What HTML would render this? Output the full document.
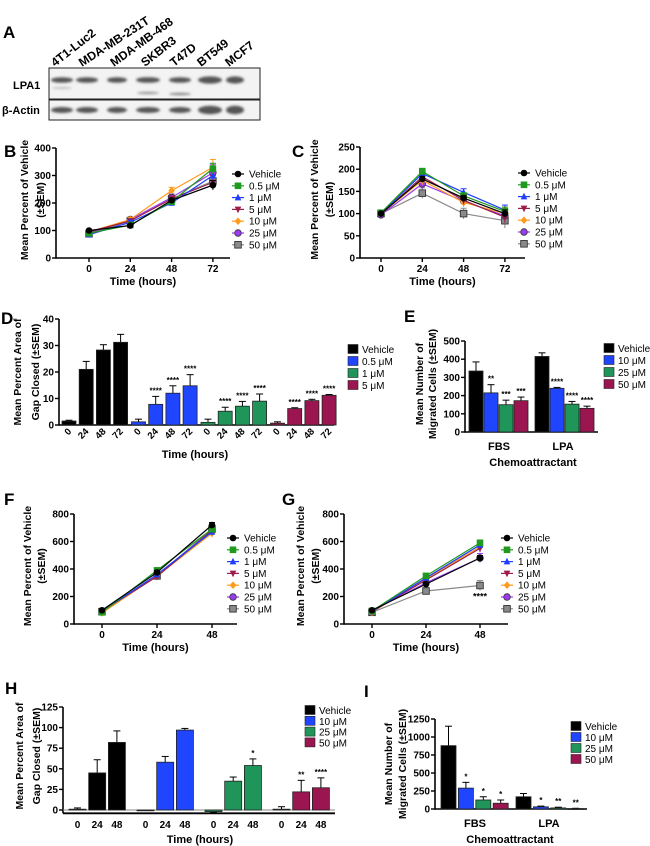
<!DOCTYPE html>
<html><head><meta charset="utf-8"><style>
html,body{margin:0;padding:0;background:#fff;}
svg{display:block;font-family:"Liberation Sans",Arial,sans-serif;}
</style></head><body>
<svg id="fig" width="650" height="846" viewBox="0 0 650 846" xmlns="http://www.w3.org/2000/svg">
<defs><filter id="blur" x="-20%" y="-50%" width="140%" height="200%"><feGaussianBlur stdDeviation="1.2"/></filter></defs>
<g>
<text x="3" y="38" font-size="17" font-weight="bold">A</text>
<g font-size="12" font-weight="bold">
<text transform="translate(55,67) rotate(-38)">4T1-Luc2</text>
<text transform="translate(82,67) rotate(-33)">MDA-MB-231T</text>
<text transform="translate(114,67) rotate(-36)">MDA-MB-468</text>
<text transform="translate(145,67) rotate(-38)">SKBR3</text>
<text transform="translate(174,67) rotate(-38)">T47D</text>
<text transform="translate(201,67) rotate(-38)">BT549</text>
<text transform="translate(229,67) rotate(-38)">MCF7</text>
</g>
<text x="13" y="89" font-size="11" font-weight="bold">LPA1</text>
<text x="2" y="114" font-size="11" font-weight="bold">β-Actin</text>
<rect x="49" y="68" width="211" height="31" fill="#f3f3f3" stroke="#222" stroke-width="1"/>
<rect x="49" y="100" width="211" height="20" fill="#f3f3f3" stroke="#222" stroke-width="1"/>
<g id="bands" filter="url(#blur)"></g>
</g>
<g id="charts"></g>
</svg>
<script>
// ---------- Panel B data ----------
const timesB = ["0","24","48","72"];
const seriesNames = ["Vehicle","0.5 μM","1 μM","5 μM","10 μM","25 μM","50 μM"];
const bVehicle = [100,118,210,265];
const b05 = [90,120,205,325];
const b1 = [85,130,200,300];
const b5 = [95,135,215,275];
const b10 = [95,140,245,330];
const b25 = [90,140,220,310];
const b50 = [88,135,215,280];
const bErr = [6,8,12,28];
const ticksB = [0,100,200,300,400];
// ---------- Panel C data ----------
const cVehicle = [100,178,135,100];
const c05 = [102,195,140,105];
const c1 = [100,190,148,108];
const c5 = [98,183,130,92];
const c10 = [100,175,125,100];
const c25 = [97,167,128,95];
const c50 = [100,146,100,84];
const cErr = [4,10,10,14];
const ticksC = [0,50,100,150,200,250];
// ---------- Panel F data ----------
const timesF = ["0","24","48"];
const fVehicle = [100,375,720];
const f05 = [85,390,690];
const f1 = [90,360,670];
const f5 = [95,345,680];
const f10 = [80,350,660];
const f25 = [95,355,680];
const f50 = [90,350,690];
const fErr = [10,25,30];
const ticksF = [0,200,400,600,800];
// ---------- Panel G data ----------
const gVehicle = [100,290,480];
const g05 = [95,350,590];
const g1 = [90,335,575];
const g5 = [90,320,550];
const g10 = [85,330,560];
const g25 = [95,300,480];
const g50 = [85,240,280];
const gErr = [10,20,30];
const ticksG = [0,200,400,600,800];
// ---------- Panel D data ----------
const timesD = ["0","24","48","72"];
const dLegend = ["Vehicle","0.5 μM","1 μM","5 μM"];
const dVehicle = [1.5,21,28.3,31.2];
const d05 = [1.2,7.8,12,14.8];
const d1 = [1,5.2,7.1,9];
const d5 = [0.7,6.2,9.2,11.2];
const dErrVehicle = [0.3,3,2,3];
const dErr05 = [1,3,2.8,4.2];
const dErr1 = [1.2,1.5,1.8,2.7];
const dErr5 = [0.5,0.3,0.5,0.3];
const dStars = ["","****","****","****"];
const ticksD = [0,10,20,30,40];
// ---------- Panel E data ----------
const catsE = ["FBS","LPA"];
const eLegend = ["Vehicle","10 μM","25 μM","50 μM"];
const eFBS = [335,215,150,172];
const eLPA = [415,240,153,130];
const eErrFBS = [50,45,25,20];
const eErrLPA = [20,5,15,12];
const eStarsFBS = ["","**","***","***"];
const eStarsLPA = ["","****","****","****"];
const ticksE = [0,100,200,300,400,500];
// ---------- Panel H data ----------
const timesH = ["0","24","48"];
const hLegend = ["Vehicle","10 μM","25 μM","50 μM"];
const hVehicle = [1,45,82];
const h10 = [0,58,97];
const h25 = [-2,35,54];
const h50 = [1,22,27];
const hErrVehicle = [1.5,16,14];
const hErr10 = [0,7,2];
const hErr25 = [1,5,8];
const hErr50 = [3,14,12];
const hStars25 = ["","","*"];
const hStars50 = ["","**","****"];
const ticksH = [0,25,50,75,100,125];
// ---------- Panel I data ----------
const catsI = ["FBS","LPA"];
const iFBS = [880,290,125,80];
const iLPA = [170,30,15,5];
const iErrFBS = [270,80,45,45];
const iErrLPA = [45,10,10,5];
const iStarsFBS = ["","*","*","*"];
const iStarsLPA = ["","*","**","**"];
const ticksI = [0,250,500,750,1000,1250];

const NS="http://www.w3.org/2000/svg";
const root=document.getElementById('charts');
const lineColors=["#000","#1f9a1f","#1f3dff","#9b1b4b","#ff9a1a","#9b3cf0","#8a8a8a"];
const markerShapes=["circle","square","tri","tridown","diamond","circleo","squareo"];
const barColors=["#000","#1f45ff","#1f955a","#9b1650"];
function el(tag,attrs,parent){const e=document.createElementNS(NS,tag);for(const k in attrs)e.setAttribute(k,attrs[k]);(parent||root).appendChild(e);return e;}
function txt(x,y,s,size,opts,parent){const t=el('text',Object.assign({x:x,y:y,'font-size':size},opts||{}),parent);t.textContent=s;return t;}

function yAxis(g,ax,y0,yTop,vmax,ticks,vmin){
  vmin=vmin||0;
  const sy=v=>y0-(v-vmin)/(vmax-vmin)*(y0-yTop);
  const a=el('line',{x1:ax,y1:sy(vmin)+0.7,x2:ax,y2:sy(vmax),stroke:'#000','stroke-width':1.6},g);
  
  
  ticks.forEach(t=>{
    el('line',{x1:ax-4,y1:sy(t),x2:ax,y2:sy(t),stroke:'#000','stroke-width':1.4},g);
    const l=txt(ax-5,sy(t)+3.5,String(t),10,{'text-anchor':'end','font-weight':'bold'},g);
    
    
  });
  return sy;
}
function yTitle(g,x1,x2,cy,l1,l2,size){
  const a=txt(0,0,l1,size||10.5,{'text-anchor':'middle','font-weight':'bold',transform:`translate(${x1},${cy}) rotate(-90)`},g);
  
  
  const b=txt(0,0,l2,size||10.5,{'text-anchor':'middle','font-weight':'bold',transform:`translate(${x2},${cy}) rotate(-90)`},g);
  
  
}
function marker(g,shape,x,y,c){
  const r=3.3;let m;
  if(shape==='circle') m=el('circle',{cx:x,cy:y,r:r,fill:c},g);
  else if(shape==='circleo') m=el('circle',{cx:x,cy:y,r:r,fill:c,stroke:'#333','stroke-width':0.8},g);
  else if(shape==='square') m=el('rect',{x:x-r,y:y-r,width:2*r,height:2*r,fill:c},g);
  else if(shape==='squareo') m=el('rect',{x:x-r,y:y-r,width:2*r,height:2*r,fill:c,stroke:'#333','stroke-width':0.9},g);
  else if(shape==='tri') m=el('polygon',{points:`${x},${y-r-0.5} ${x-r},${y+r-0.5} ${x+r},${y+r-0.5}`,fill:c},g);
  else if(shape==='tridown') m=el('polygon',{points:`${x},${y+r+0.5} ${x-r},${y-r+0.5} ${x+r},${y-r+0.5}`,fill:c},g);
  else m=el('polygon',{points:`${x},${y-r-0.5} ${x+r},${y} ${x},${y+r+0.5} ${x-r},${y}`,fill:c},g);
  return m;
}
function legendLines(g,mx,ty,step){
  seriesNames.forEach((n,i)=>{
    const y=ty+i*step;
    el('line',{x1:mx-6,y1:y,x2:mx+6,y2:y,stroke:lineColors[i],'stroke-width':1.2},g);
    const m=marker(g,markerShapes[i],mx,y,lineColors[i]);
    
    
    const t=txt(mx+11,y+3.5,n,10,{},g);
    
    
  });
}
function lineChart(name,letter,lx,ly,ax,xEnd,y0,yTop,vmax,ticks,times,xFirst,xStep,series,err,legX,legY,titleX1,titleX2,xTitleY,starsLast){
  const g=el('g',{});
  
  
  const L=txt(lx,ly,letter,17,{'font-weight':'bold'},g);
  
  
  const sy=yAxis(g,ax,y0,yTop,vmax,ticks);
  const sx=i=>xFirst+i*xStep;
  const xa=el('line',{x1:ax,y1:y0,x2:xEnd,y2:y0,stroke:'#000','stroke-width':1.6},g);
  
  
  times.forEach((t,i)=>{
    el('line',{x1:sx(i),y1:y0,x2:sx(i),y2:y0+4,stroke:'#000','stroke-width':1.4},g);
    const l=txt(sx(i),y0+14,t,10,{'text-anchor':'middle','font-weight':'bold'},g);
    
    
  });
  const xt=txt((ax+xEnd)/2,xTitleY,'Time (hours)',11,{'text-anchor':'middle','font-weight':'bold'},g);
  
  
  yTitle(g,titleX1,titleX2,(y0+yTop)/2-3,'Mean Percent of Vehicle','(±SEM)',10.5);
  for(let s=series.length-1;s>=0;s--){
    const vals=series[s];
    const pts=vals.map((v,i)=>sx(i)+','+sy(v)).join(' ');
    const pl=el('polyline',{points:pts,fill:'none',stroke:lineColors[s],'stroke-width':1.2},g);
    
    
    vals.forEach((v,i)=>{
      const e=err[i]*(0.6+0.1*s);
      el('line',{x1:sx(i),y1:sy(v-e),x2:sx(i),y2:sy(v+e),stroke:lineColors[s],'stroke-width':1},g);
      el('line',{x1:sx(i)-3,y1:sy(v+e),x2:sx(i)+3,y2:sy(v+e),stroke:lineColors[s],'stroke-width':1},g);
      const m=marker(g,markerShapes[s],sx(i),sy(v),lineColors[s]);
      
      
    });
  }
  if(starsLast){const i=series[6].length-1;const st=txt(sx(i),sy(series[6][i])+14,starsLast,9,{'text-anchor':'middle','font-weight':'bold'},g);
    
    }
  legendLines(g,legX,legY,11.8);
}
lineChart('panel-b-chart','B',4,157,56,230,258,148,400,ticksB,timesB,89,41.3,[bVehicle,b05,b1,b5,b10,b25,b50],bErr,238,174,28,44,285);
lineChart('panel-c-chart','C',292,157,360,525,258,147,250,ticksC,timesB,381,41.3,[cVehicle,c05,c1,c5,c10,c25,c50],cErr,524,173,318,333,285);
lineChart('panel-f-chart','F',4,505,74,237,624,514,800,ticksF,timesF,102,55,[fVehicle,f05,f1,f5,f10,f25,f50],fErr,233,538,31,45,651);
lineChart('panel-g-chart','G',282,505,344,508,624,514,800,ticksG,timesF,372,54,[gVehicle,g05,g1,g5,g10,g25,g50],gErr,507,538,304,319,651,'****');

function barLegend(g,bx,ty,step,names){
  names.forEach((n,i)=>{
    const r=el('rect',{x:bx,y:ty+i*step-4.5,width:10,height:9,fill:barColors[i],stroke:'#222','stroke-width':0.6},g);
    
    
    const t=txt(bx+14,ty+i*step+4,n,10,{},g);
    
    
  });
}
function bar(g,x,w,sy,v,e,color,star){
  const y=Math.min(sy(v),sy(0)),h=Math.abs(sy(0)-sy(v));
  if(e>0){
    const top=sy(v+(v>=0?e:-e));
    el('line',{x1:x+w/2,y1:sy(v),x2:x+w/2,y2:top,stroke:'#000','stroke-width':1},g);
    el('line',{x1:x+w/2-3.5,y1:top,x2:x+w/2+3.5,y2:top,stroke:'#000','stroke-width':1},g);
  }
  const r=el('rect',{x:x,y:y,width:w,height:Math.max(h,0.8),fill:color,stroke:'#222','stroke-width':0.8},g);
  
  
  if(star){const st=txt(x+w/2,sy(v+e)-3,star,8,{'text-anchor':'middle','font-weight':'bold'},g);
    
    }
}
// Panel D
(function(){
  const g=el('g',{});
  
  
  const L=txt(1,324,'D',17,{'font-weight':'bold'},g);
  
  
  const sy=yAxis(g,59,425,319,40,ticksD);
  const xa=el('line',{x1:59,y1:425,x2:334,y2:425,stroke:'#000','stroke-width':1.6},g);
  
  
  const groups=[dVehicle,d05,d1,d5],errs=[dErrVehicle,dErr05,dErr1,dErr5];
  groups.forEach((vals,gi)=>{
    vals.forEach((v,bi)=>{
      const x=62+gi*69.5+bi*17.2;
      bar(g,x,14,sy,v,errs[gi][bi],barColors[gi],gi>0?dStars[bi]:'');
      const l=txt(0,0,timesD[bi],9.5,{'text-anchor':'end','font-weight':'bold',transform:`translate(${x+10},${432}) rotate(-45)`},g);
      
      
    });
  });
  const xt=txt(195,458,'Time (hours)',11,{'text-anchor':'middle','font-weight':'bold'},g);
  
  
  yTitle(g,21,39,372,'Mean Percent Area of','Gap Closed (±SEM)',10.5);
  barLegend(g,348,349,12,dLegend);
})();
// Panel E
(function(){
  const g=el('g',{});
  
  
  const L=txt(404,322,'E',17,{'font-weight':'bold'},g);
  
  
  const sy=yAxis(g,465,432,341,500,ticksE);
  const xa=el('line',{x1:465,y1:432,x2:598,y2:432,stroke:'#000','stroke-width':1.6},g);
  
  
  const groups=[eFBS,eLPA],errs=[eErrFBS,eErrLPA],stars=[eStarsFBS,eStarsLPA];
  groups.forEach((vals,gi)=>{
    vals.forEach((v,bi)=>{bar(g,469+gi*66+bi*15,14,sy,v,errs[gi][bi],barColors[bi],stars[gi][bi]);});
    const l=txt(499+gi*64,450,catsE[gi],11,{'text-anchor':'middle','font-weight':'bold'},g);
    
    
  });
  const xt=txt(533,466,'Chemoattractant',11,{'text-anchor':'middle','font-weight':'bold'},g);
  
  
  yTitle(g,423,436,384,'Mean Number of','Migrated Cells (±SEM)',10.5);
  barLegend(g,604,348,12,eLegend);
})();
// Panel H
(function(){
  const g=el('g',{});
  
  
  const L=txt(5,694,'H',17,{'font-weight':'bold'},g);
  
  
  const sy=yAxis(g,63,810,707,125,ticksH,0);
  el('line',{x1:63,y1:sy(-4),x2:63,y2:sy(0),stroke:'#000','stroke-width':1.6},g);
  el('line',{x1:63,y1:sy(0),x2:335,y2:sy(0),stroke:'#888','stroke-width':1},g);
  const xa=el('line',{x1:63,y1:sy(-4),x2:335,y2:sy(-4),stroke:'#000','stroke-width':1.8},g);
  
  
  const groups=[hVehicle,h10,h25,h50],errs=[hErrVehicle,hErr10,hErr25,hErr50],stars=[["","",""],["","",""],hStars25,hStars50];
  groups.forEach((vals,gi)=>{
    vals.forEach((v,bi)=>{
      const x=69+gi*68+bi*19.7;
      bar(g,x,17,sy,v,errs[gi][bi],barColors[gi],stars[gi][bi]);
      const l=txt(x+8.5,828,timesH[bi],10,{'text-anchor':'middle','font-weight':'bold'},g);
      
      
    });
  });
  const xt=txt(200,843,'Time (hours)',11,{'text-anchor':'middle','font-weight':'bold'},g);
  
  
  yTitle(g,23,40,756,'Mean Percent Area of','Gap Closed (±SEM)',10.5);
  barLegend(g,305,710,10.8,hLegend);
})();
// Panel I
(function(){
  const g=el('g',{});
  
  
  const L=txt(364,697,'I',17,{'font-weight':'bold'},g);
  
  
  const sy=yAxis(g,435,809,719,1250,ticksI);
  const xa=el('line',{x1:435,y1:809,x2:587,y2:809,stroke:'#000','stroke-width':1.6},g);
  
  
  const groups=[iFBS,iLPA],errs=[iErrFBS,iErrLPA],stars=[iStarsFBS,iStarsLPA];
  groups.forEach((vals,gi)=>{
    vals.forEach((v,bi)=>{bar(g,441+gi*75+bi*17.4,15,sy,v,errs[gi][bi],barColors[bi],stars[gi][bi]);});
    const l=txt(475+gi*74,827,catsI[gi],11,{'text-anchor':'middle','font-weight':'bold'},g);
    
    
  });
  const xt=txt(510,843,'Chemoattractant',11,{'text-anchor':'middle','font-weight':'bold'},g);
  
  
  yTitle(g,392,406,764,'Mean Number of','Migrated Cells (±SEM)',10.5);
  barLegend(g,571,726,11,eLegend);
})();
// Blot bands
(function(){
  const g=document.getElementById('bands');
  const lanes=[62,87,117,148,180,210,235];
  const widths=[22,22,20,24,22,24,18];
  lanes.forEach((x,i)=>{
    const b1=el('ellipse',{cx:x,cy:80,rx:widths[i]/2,ry:i>=5?3.6:2.8,fill:'#555'},g);
    
    
    const b2=el('ellipse',{cx:x,cy:110,rx:widths[i]/2,ry:i>=5?4.2:3,fill:'#555'},g);
    
    
  });
  el('ellipse',{cx:148,cy:93,rx:11,ry:1.2,fill:'#999'},g);
  el('ellipse',{cx:180,cy:94,rx:11,ry:1.3,fill:'#888'},g);
  el('ellipse',{cx:62,cy:88,rx:10,ry:1,fill:'#bbb'},g);
})();
</script>
</body></html>
